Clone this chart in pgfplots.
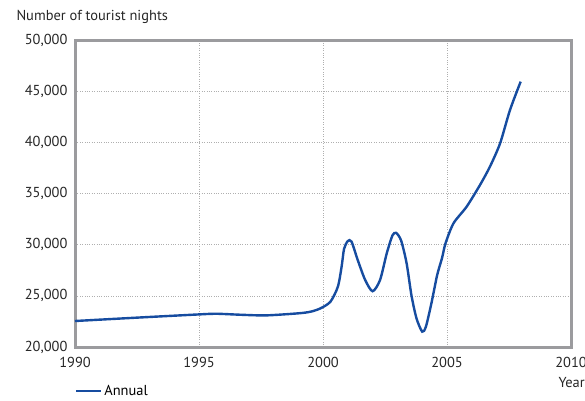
\documentclass[border=0pt]{standalone}
\usepackage{fontspec}
\setmainfont{PT Sans}
\usepackage{pgfplots}
\pgfplotsset{compat=1.18}
\definecolor{linecol}{RGB}{22,76,160}
\definecolor{framecol}{RGB}{155,155,158}
\definecolor{gridcol}{RGB}{175,175,175}
\begin{document}
\begin{tikzpicture}[x=1bp,y=1bp]
\path[use as bounding box] (-75,-53) rectangle (510,347);
\begin{axis}[
  at={(0,0)}, anchor=south west,
  scale only axis, width=496bp, height=307bp,
  xmin=1990, xmax=2010, ymin=20000, ymax=50000,
  xtick={1990,1995,2000,2005,2010},
  ytick={20000,25000,30000,35000,40000,45000,50000},
  scaled ticks=false,
  xticklabel style={/pgf/number format/1000 sep={}, yshift=-7bp},
  yticklabel style={/pgf/number format/1000 sep={,}, xshift=-4bp},
  /pgf/number format/assume math mode=true,
  tick label style={font=\fontsize{14.5}{16}\selectfont, text=black!85},
  major tick length=0pt,
  xtick align=outside, ytick align=outside,
  axis line style={framecol, line width=3bp},
  grid=major,
  major grid style={gridcol, dotted, line width=0.6bp},
  legend style={at={(0,-36bp)}, anchor=north west, draw=none, fill=none,
    font=\fontsize{14.5}{16}\selectfont, inner sep=0pt},
  legend cell align=left,
  legend image code/.code={\draw[#1, line width=2.2bp] (0bp,0bp) -- (25bp,0bp);},
  clip=false,
]
\addplot[linecol, line width=2.4bp, smooth, tension=0.45] coordinates {
(1990,22540) (1992.5,22870) (1995.04,23190) (1995.7,23250) (1996.7,23150)
(1997.7,23090) (1999.0,23290) (1999.5,23450) (1999.9,23780)
(2000.3,24430) (2000.6,25900) (2000.75,27850) (2000.85,29600) (2001,30350)
(2001.15,30300) (2001.4,28500) (2001.7,26550) (2002,25450) (2002.3,26550)
(2002.57,29150) (2002.8,30900) (2002.95,31150) (2003.15,30400) (2003.37,28200)
(2003.57,25000) (2003.77,22800) (2004,21500) (2004.15,22000) (2004.37,24260)
(2004.6,27000) (2004.8,28700) (2004.94,30130) (2005.26,32080) (2005.79,33710)
(2006.33,35830) (2006.73,37620) (2007.14,39900) (2007.54,43160) (2007.97,45930)
};
\addlegendentry{Annual}
\end{axis}
\node[anchor=west, font=\fontsize{14.5}{16}\selectfont, text=black!85] at (-62,330) {Number of tourist nights};
\node[anchor=west, font=\fontsize{14.5}{16}\selectfont, text=black!85] at (480,-36) {Year};
\end{tikzpicture}
\end{document}
